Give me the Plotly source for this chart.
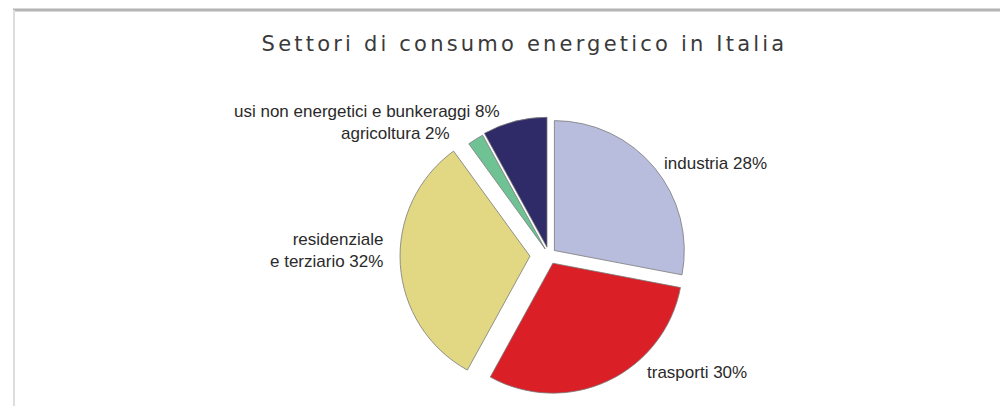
import plotly.graph_objects as go

# Energy consumption by sector in Italy (share, %)
sectors = ["industria", "trasporti", "residenziale<br>e terziario", "agricoltura",
           "usi non energetici e bunkeraggi"]
shares = [28, 30, 32, 2, 8]
slice_colors = ["#b9bddd", "#da1f27", "#e2d883", "#6ec293", "#2f2a68"]
slice_pull = [0.054, 0.07, 0.147, 0.055, 0.062]

title_text = "Settori di consumo energetico in Italia"

W, H = 1000, 406


def px(x):
    return x / W


def py(y):
    return 1 - y / H


fig = go.Figure(
    go.Pie(
        labels=sectors,
        values=shares,
        sort=False,
        direction="clockwise",
        rotation=0,
        pull=slice_pull,
        textinfo="none",
        marker=dict(colors=slice_colors, line=dict(color="#7a7a7a", width=0.8)),
        domain=dict(x=[px(400), px(698)], y=[py(404), py(106)]),
        showlegend=False,
    )
)

label_font = dict(family="Liberation Sans, Arial, sans-serif", size=17, color="#2a2a2a")

# external slice labels: (index, x, y, anchor)
label_pos = [
    (0, 662, 163, "left"),
    (1, 645, 372, "left"),
    (2, 385, 250, "right"),
    (3, 452, 133, "right"),
    (4, 502, 111, "right"),
]
for i, x, y, anchor in label_pos:
    fig.add_annotation(
        x=px(x), y=py(y), xref="paper", yref="paper",
        text=f"{sectors[i]} {shares[i]}%",
        showarrow=False, xanchor=anchor, yanchor="middle",
        align=anchor, font=label_font,
    )

fig.add_annotation(
    x=px(524), y=py(44), xref="paper", yref="paper",
    text=title_text, showarrow=False, xanchor="center", yanchor="middle",
    font=dict(family="DejaVu Sans, sans-serif", size=21, color="#3a3a3a"),
    name="chart-title",
)

# frame lines along the top and left edges
fig.add_shape(type="line", xref="paper", yref="paper",
              x0=px(13), x1=1, y0=py(10), y1=py(10),
              line=dict(color="#b4b4b4", width=3))
fig.add_shape(type="line", xref="paper", yref="paper",
              x0=px(14), x1=px(14), y0=py(10), y1=0,
              line=dict(color="#dddddd", width=2))

fig.update_layout(
    width=W, height=H,
    margin=dict(l=0, r=0, t=0, b=0),
    paper_bgcolor="white",
    plot_bgcolor="white",
)

# widen the title's letter spacing once the plot is drawn
spacing_js = """
var gd = document.getElementById('{plot_id}');
function spaceTitle() {
  gd.querySelectorAll('.annotation-text').forEach(function (t) {
    if (t.textContent.indexOf('Settori') === 0) {
      t.style.letterSpacing = '3.2px';
    }
  });
}
spaceTitle();
gd.on('plotly_afterplot', spaceTitle);
"""

fig.write_html("out.html", post_script=spacing_js)
